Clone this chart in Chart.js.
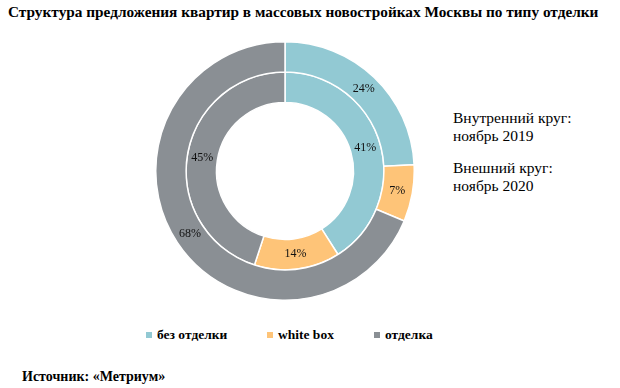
<!DOCTYPE html>
<html>
<head>
<meta charset="utf-8">
<script src="https://cdn.jsdelivr.net/npm/chart.js@4.4.1/dist/chart.umd.min.js"></script>
<style>
    body { margin: 0; width: 620px; height: 388px; background: #fff; position: relative; overflow: hidden;
           font-family: "Liberation Serif", "Times New Roman", serif; color: #000; }
    #title { position: absolute; left: 8px; top: 3px; font-size: 15.3px; font-weight: bold; white-space: nowrap; }
    #wrap { position: absolute; left: 155px; top: 41px; width: 260px; height: 260px; }
    .note { position: absolute; left: 453px; font-size: 15.5px; line-height: 18px; }
    #legend { position: absolute; top: 327px; left: 146px; font-size: 13.5px; font-weight: bold; }
    #legend span.item { position: absolute; white-space: nowrap; }
    #legend i { display: inline-block; width: 6px; height: 6px; margin-right: 5px; vertical-align: 1px; }
    #source { position: absolute; left: 22px; top: 369px; font-size: 14px; font-weight: bold; }
</style>
</head>
<body>
<div id="title">Структура предложения квартир в массовых новостройках Москвы по типу отделки</div>
<div id="wrap"><canvas id="donut"></canvas></div>
<div class="note" style="top:109px">Внутренний круг:<br>ноябрь 2019</div>
<div class="note" style="top:159px">Внешний круг:<br>ноябрь 2020</div>
<div id="legend"></div>
<div id="source">Источник: «Метриум»</div>

<script>
// ---- данные ----
const labels = ['без отделки', 'white box', 'отделка'];
const nov2020 = [24, 7, 68];   // внешний круг
const nov2019 = [41, 14, 45];  // внутренний круг
const colors = ['#92c9d3', '#fec478', '#8a8f94'];
const legendX = [0, 121, 228];

// подписи процентов на сегментах
const pctLabels = {
    id: 'pctLabels',
    afterDatasetsDraw(chart) {
        const ctx = chart.ctx;
        ctx.save();
        ctx.font = '12px "Liberation Serif", serif';
        ctx.fillStyle = '#111';
        ctx.textAlign = 'center';
        ctx.textBaseline = 'middle';
        chart.data.datasets.forEach((ds, i) => {
            chart.getDatasetMeta(i).data.forEach((arc, j) => {
                const p = arc.tooltipPosition();
                ctx.fillText(ds.data[j] + '%', p.x, p.y);
            });
        });
        ctx.restore();
    }
};

new Chart(document.getElementById('donut'), {
    type: 'doughnut',
    data: {
        labels: labels,
        datasets: [
            { label: 'ноябрь 2020', data: nov2020, backgroundColor: colors, borderColor: '#fff', borderWidth: 1.5 },
            { label: 'ноябрь 2019', data: nov2019, backgroundColor: colors, borderColor: '#fff', borderWidth: 1.5 }
        ]
    },
    options: {
        responsive: true,
        maintainAspectRatio: false,
        animation: false,
        cutout: '53%',
        layout: { padding: 0 },
        plugins: { legend: { display: false }, tooltip: { enabled: false } }
    },
    plugins: [pctLabels]
});

// легенда
const leg = document.getElementById('legend');
labels.forEach((l, i) => {
    const s = document.createElement('span');
    s.className = 'item';
    s.style.left = legendX[i] + 'px';
    s.innerHTML = '<i style="background:' + colors[i] + '"></i>' + l;
    leg.appendChild(s);
});
</script>
</body>
</html>
